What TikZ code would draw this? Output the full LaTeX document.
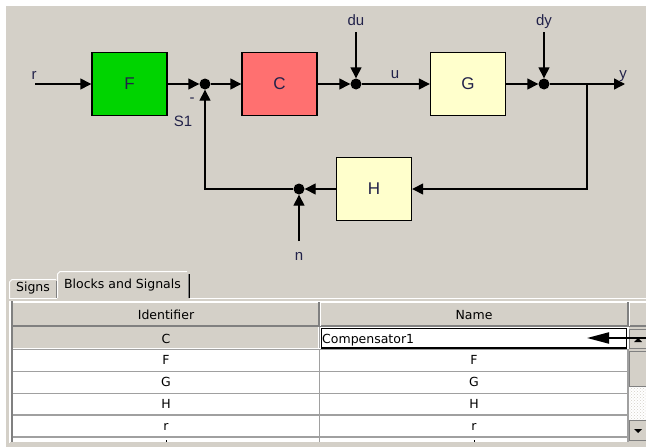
\documentclass[tikz,border=0pt]{standalone}
\usepackage{fontspec}
\setmainfont{Liberation Sans}
\newfontfamily\guifont{DejaVu Sans}
\usetikzlibrary{arrows.meta, patterns}
\definecolor{panelgray}{HTML}{D4D0C8}
\definecolor{shadegray}{HTML}{808080}
\definecolor{gridgray}{HTML}{A0A0A0}
\definecolor{blockgreen}{HTML}{00D400}
\definecolor{blockred}{HTML}{FF7070}
\definecolor{blockyellow}{HTML}{FFFFCC}
\definecolor{labelink}{HTML}{22224A}

\begin{document}
\begin{tikzpicture}[x=1pt, y=-1pt,
    sig/.style={line width=1.4pt, -{Triangle[length=11pt, width=11pt]}},
    block/.style={draw, line width=1.4pt, minimum width=75pt, minimum height=63pt, inner sep=0pt,
        text=labelink, font=\fontsize{17}{20}\selectfont},
    sumdot/.style={circle, fill=black, minimum size=11pt, inner sep=0pt},
    siglabel/.style={text=labelink, font=\fontsize{15}{18}\selectfont, inner sep=0pt, anchor=base},
    cell/.style={text=black, font=\guifont\fontsize{12.5}{15}\selectfont, inner sep=0pt, anchor=base},
    raised/.style={fill=panelgray, draw=shadegray, line width=1pt},
]
    \useasboundingbox (0,0) rectangle (646,447);
    % Window background
    \fill[white] (0,0) rectangle (646,447);
    \fill[panelgray] (6,6) rectangle (646,447);

    % Blocks
    \node[block, fill=blockgreen] (F) at (129.5,84) {F};
    \node[block, fill=blockred] (C) at (279.5,84) {C};
    \node[block, fill=blockyellow] (G) at (468,84) {G};
    \node[block, fill=blockyellow] (H) at (374,189) {H};

    % Summing junctions
    \node[sumdot] (S1) at (205,84) {};
    \node[sumdot] (sumdu) at (356,84) {};
    \node[sumdot] (sumdy) at (544,84) {};
    \node[sumdot] (sumn) at (299,189) {};

    % Free ends
    \coordinate (rin) at (35,84);
    \coordinate (duin) at (356,32);
    \coordinate (dyin) at (544,32);
    \coordinate (nin) at (299,241);
    \coordinate (branch) at (587,84);
    \coordinate (yout) at (625,84);

    % Forward path
    \draw[sig] (rin) -- (F.west);
    \draw[sig] (F.east) -- (S1.west);
    \draw[sig] (S1.east) -- (C.west);
    \draw[sig] (C.east) -- (sumdu.west);
    \draw[sig] (duin) -- (sumdu.north);
    \draw[sig] (sumdu.east) -- (G.west);
    \draw[sig] (G.east) -- (sumdy.west);
    \draw[sig] (dyin) -- (sumdy.north);
    \draw[sig] (sumdy.east) -- (yout);

    % Feedback path
    \draw[sig] (branch) |- (H.east);
    \draw[sig] (H.west) -- (sumn.east);
    \draw[sig] (nin) -- (sumn.south);
    \draw[sig] (sumn.west) -| (S1.south);

    % Signal labels
    \node[siglabel] (rlab) at (34,79) {r};
    \node[siglabel] (dulab) at (356,25) {du};
    \node[siglabel] (dylab) at (544,25) {dy};
    \node[siglabel] (ulab) at (395,78) {u};
    \node[siglabel] (ylab) at (623,78) {y};
    \node[siglabel] (nlab) at (299,260) {n};
    \node[siglabel] (s1lab) at (183,126) {S1};
    \node[siglabel, anchor=center] (minus) at (192,100) {-};

    % Tabs
    \fill[panelgray] (9,279) rectangle (57,298);
    \draw[white, line width=1pt] (9.5,298) -- (9.5,282) -- (12,279.5) -- (56,279.5);
    \draw[shadegray, line width=1pt] (56.5,281) -- (56.5,298);
    \node[cell] (signstab) at (33,291) {Signs};
    \fill[panelgray] (57,271) rectangle (190,299);
    \draw[white, line width=1pt] (57.5,298) -- (57.5,274) -- (60,271.5) -- (187,271.5);
    \draw[black, line width=1pt] (189.5,274) -- (189.5,298);
    \draw[shadegray, line width=1pt] (188.5,274) -- (188.5,298);
    \node[cell] (blockstab) at (122.5,288) {Blocks and Signals};
    \draw[white, line width=1pt] (9,298.5) -- (57,298.5);
    \draw[white, line width=1pt] (190,298.5) -- (646,298.5);

    % Table
    \fill[white] (10,301) rectangle (646,442);
    \draw[shadegray, line width=2pt] (12,301) -- (12,442);
    \draw[white, line width=1pt] (9.5,301) -- (9.5,443);
    \fill[panelgray] (13,302) rectangle (646,326);
    \draw[white, line width=1pt] (13,302.5) -- (646,302.5);
    \draw[shadegray, line width=1.5pt] (13,326) -- (646,326);
    \draw[shadegray, line width=1.5pt] (319,302) -- (319,326);
    \draw[white, line width=1pt] (320.5,302) -- (320.5,326);
    \draw[shadegray, line width=1.5pt] (628,302) -- (628,326);
    \draw[white, line width=1pt] (629.5,302) -- (629.5,326);
    \node[cell] (idhead) at (166,319) {Identifier};
    \node[cell] (namehead) at (474,319) {Name};

    % Selected row
    \fill[panelgray] (13,327) rectangle (318,348);
    \fill[white] (321,328) rectangle (627,348);
    \draw[black, line width=1.4pt] (321.5,328.5) rectangle (626.5,348);

    % Row lines
    \foreach \ry in {349.5,371.5,393.5,415,437} {
        \draw[gridgray, line width=1.8pt] (13,\ry) -- (628,\ry);
    }
    \draw[gridgray, line width=1.8pt] (319.5,349) -- (319.5,442);
    \draw[gridgray, line width=1.5pt] (319.5,327) -- (319.5,348);
    \draw[gridgray, line width=1.5pt] (628,349) -- (628,442);

    % Row texts
    \node[cell] (idC) at (166,343) {C};
    \node[cell, anchor=base west] (nameC) at (322,343) {Compensator1};
    \foreach \rid/\ry in {F/364.5, G/386.5, H/408.5, r/430.5} {
        \node[cell] (id\rid) at (166,\ry) {\rid};
        \node[cell] (name\rid) at (474,\ry) {\rid};
    }
    \fill[black] (165.5,439.5) rectangle (167,441.5);
    \fill[black] (473.5,439.5) rectangle (475,441.5);

    % Scrollbar
    \fill[panelgray] (629,327) rectangle (646,442);
    \draw[raised] (629.5,329.5) rectangle (646,348);
    \fill[black] (634,342) -- (642,342) -- (638,338) -- cycle;
    \draw[raised] (629.5,351.5) rectangle (646,386.5);
    \fill[white] (629,387) rectangle (646,420);
    \fill[pattern=crosshatch dots, pattern color=panelgray] (629,387) rectangle (646,420);
    \draw[raised] (629.5,420.5) rectangle (646,440);
    \fill[black] (634,429) -- (642,429) -- (638,433) -- cycle;

    % Pointer to edited name
    \coordinate (pointstart) at (646,338);
    \coordinate (editcell) at (587,338);
    \draw[line width=2pt, -{Triangle[length=22pt, width=11pt]}] (pointstart) -- (editcell);
\end{tikzpicture}
\end{document}
